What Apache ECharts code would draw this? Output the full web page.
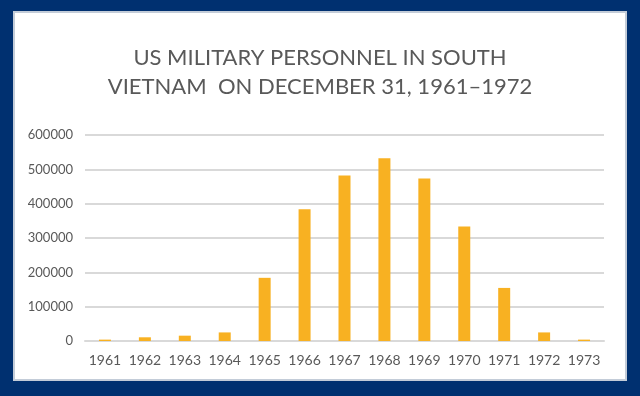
<!DOCTYPE html>
<html>
<head>
<meta charset="utf-8">
<script src="https://cdn.jsdelivr.net/npm/echarts@6/dist/echarts.min.js"></script>
<style>
  html, body { margin: 0; padding: 0; background: #003070; }
  #chart { width: 640px; height: 396px; }
</style>
</head>
<body>
<div id="chart"></div>
<script>
const years = ['1961', '1962', '1963', '1964', '1965', '1966', '1967', '1968', '1969', '1970', '1971', '1972', '1973'];
const personnel = [4000, 10800, 15500, 25000, 184000, 384000, 482000, 532000, 473000, 333500, 154600, 25000, 4000];
const yTicks = [0, 100000, 200000, 300000, 400000, 500000, 600000];

const myChart = echarts.init(document.getElementById('chart'));

const option = {
  backgroundColor: '#003070',
  animation: false,
  graphic: [
    {
      type: 'rect',
      z: -1,
      shape: { x: 14, y: 12, width: 612, height: 368 },
      style: { fill: '#ffffff', stroke: '#c3ccd8', lineWidth: 2 }
    }
  ],
  title: {
    text: 'US MILITARY PERSONNEL IN SOUTH\nVIETNAM  ON DECEMBER 31, 1961–1972',
    left: 'center',
    top: 38,
    textStyle: {
      fontFamily: 'Lato',
      fontSize: 22,
      fontWeight: 'normal',
      color: '#595959',
      lineHeight: 29
    }
  },
  grid: { left: 85, right: 36, top: 135, bottom: 55 },
  xAxis: {
    type: 'category',
    data: years,
    axisLine: { lineStyle: { color: '#d9d9d9', width: 2 } },
    axisTick: { show: false },
    axisLabel: { interval: 0, fontFamily: 'Lato', fontSize: 14, color: '#595959', margin: 12 }
  },
  yAxis: {
    type: 'value',
    min: yTicks[0],
    max: yTicks[yTicks.length - 1],
    interval: yTicks[1] - yTicks[0],
    axisLine: { show: false },
    axisTick: { show: false },
    splitLine: { lineStyle: { color: '#d9d9d9', width: 2 } },
    axisLabel: {
      fontFamily: 'Lato',
      fontSize: 13,
      color: '#595959',
      margin: 12,
      formatter: (v) => String(v)
    }
  },
  series: [
    {
      type: 'bar',
      data: personnel,
      barWidth: 12,
      itemStyle: { color: '#f8b122' }
    }
  ]
};

myChart.setOption(option);
</script>
</body>
</html>
